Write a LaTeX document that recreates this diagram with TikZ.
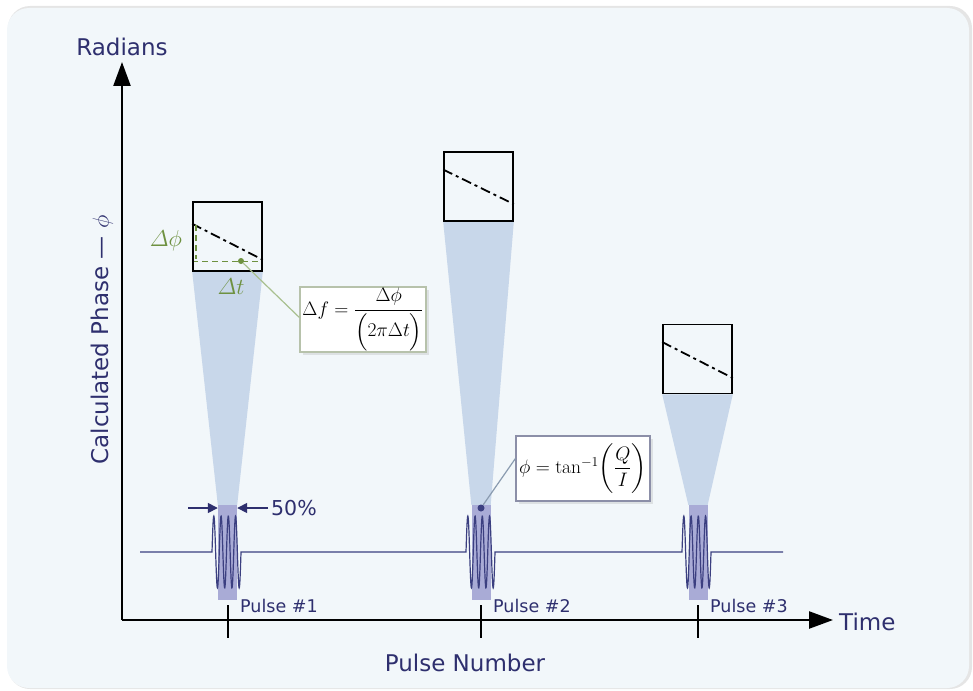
\RequirePackage{fix-cm}
\documentclass[tikz,border=0pt]{standalone}
\usepackage{amsmath}
\usepackage{fontspec}
\newfontfamily\labfont{DejaVu Sans}
\usetikzlibrary{calc,arrows.meta,shadows}
\definecolor{bgc}{HTML}{F2F7FA}
\definecolor{navy}{HTML}{2E2F6E}
\definecolor{wavec}{HTML}{3B3F80}
\definecolor{lav}{HTML}{A9ABD6}
\definecolor{conec}{HTML}{C8D7EA}
\definecolor{grn}{HTML}{6E9140}
\definecolor{grnlead}{HTML}{A9C08F}
\definecolor{box2c}{HTML}{8C8FA8}
\definecolor{lead2}{HTML}{8A9BB0}
\tikzset{
  lab/.style={text=navy,font=\labfont\fontsize{23}{26}\selectfont,inner sep=0pt},
  plab/.style={text=navy,font=\labfont\fontsize{17.5}{20}\selectfont,inner sep=0pt,anchor=west},
  phbox/.style={draw=black,line width=1.6pt,minimum size=69pt,inner sep=0pt},
  dashdot/.style={line width=1.8pt,dash pattern=on 10pt off 4pt on 3pt off 4pt},
  cone/.style={fill=conec},
  barrect/.style={fill=lav,minimum width=19pt,minimum height=95pt,inner sep=0pt},
  wave/.style={draw=wavec,line width=1.2pt},
  axis/.style={line width=2.4pt,-{Triangle[length=24pt,width=17pt]}},
  tick/.style={line width=1.6pt},
  harrow/.style={draw=navy,line width=1.6pt,-{Triangle[length=10pt,width=10pt]}},
  fbox/.style={fill=white,line width=1.2pt,minimum height=65pt,inner sep=0pt,
    font=\fontsize{19.5}{24}\selectfont,
    drop shadow={shadow xshift=3pt,shadow yshift=-3pt,opacity=.18}},
  gdash/.style={draw=grn,line width=1.8pt,dash pattern=on 6pt off 4pt},
}
\begin{document}
\begin{tikzpicture}[x=1pt,y=-1pt]
\useasboundingbox (0,0) rectangle (973,690);
% background panel
\fill[black!10,rounded corners=22pt] (8,6) rectangle (972,689);
\fill[bgc,rounded corners=22pt] (7,8) rectangle (969,688);

% phase boxes and bars
\node[phbox] (b1) at (227.5,236.5) {};
\node[phbox] (b2) at (478.5,186.5) {};
\node[phbox] (b3) at (697.5,359) {};
\node[barrect] (r1) at (227.5,552.5) {};
\node[barrect] (r2) at (481,552.5) {};
\node[barrect] (r3) at (698,552.5) {};
% cones
\fill[cone] (b1.south west) -- (b1.south east) -- (r1.north east) -- (r1.north west) -- cycle;
\fill[cone] (b2.south west) -- (b2.south east) -- (r2.north east) -- (r2.north west) -- cycle;
\fill[cone] (b3.south west) -- (b3.south east) -- (r3.north east) -- (r3.north west) -- cycle;
\node[barrect] at (r1) {};
\node[barrect] at (r2) {};
\node[barrect] at (r3) {};

% waveform
\draw[wave] (140,552) -- (212,552)
  -- plot[domain=0:29,samples=160] ({212+\x},{552-36*sin(\x*360/7.25)})
  -- (466,552)
  -- plot[domain=0:29,samples=160] ({466+\x},{552-36*sin(\x*360/7.25)})
  -- (682,552)
  -- plot[domain=0:29,samples=160] ({682+\x},{552-36*sin(\x*360/7.25)})
  -- (783,552);

% box contents
\draw[dashdot] ($(b1.north west)!0.32!(b1.south west)$) -- ($(b1.north east)!0.83!(b1.south east)$);
\draw[dashdot] ($(b2.north west)!0.26!(b2.south west)$) -- ($(b2.north east)!0.75!(b2.south east)$);
\draw[dashdot] ($(b3.north west)!0.26!(b3.south west)$) -- ($(b3.north east)!0.77!(b3.south east)$);
\draw[gdash] ($(b1.north west)!0.855!(b1.south west)$) -- ($(b1.north east)!0.855!(b1.south east)$);
\draw[gdash] (196,225) -- (196,259);
\node[phbox] at (b1) {};
\node[phbox] at (b2) {};
\node[phbox] at (b3) {};

\node[text=grn,font=\fontsize{23}{26}\selectfont] (dphi) at (166,241) {$\varDelta\phi$};
\node[text=grn,font=\fontsize{23}{26}\selectfont] (dt) at (231,287) {$\varDelta t$};

% formula boxes
\node[fbox,draw=grnlead!80!black!60,minimum width=126pt] (f1) at (363,319.5)
  {$\Delta f=\dfrac{\Delta\phi}{\Bigl(2\pi\Delta t\Bigr)}$};
\node[fbox,draw=box2c,minimum width=134pt] (f2) at (583,468.5)
  {$\phi=\tan^{-1}\!\left(\dfrac{Q}{I}\right)$};
\node[circle,fill=grn,inner sep=0pt,minimum size=6pt] (d1) at (241,261) {};
\node[circle,fill=wavec,inner sep=0pt,minimum size=7pt] (d2) at (481,508) {};
\draw[grnlead,line width=1.2pt] (d1) -- ([yshift=2pt]f1.west);
\draw[lead2,line width=1.2pt] (d2) -- ([yshift=10pt]f2.west);

% 50% arrows
\coordinate (a1s) at (188,508);
\coordinate (a2s) at (268,508);
\draw[harrow] (a1s) -- (a1s -| r1.west);
\draw[harrow] (a2s) -- (a2s -| r1.east);
\node[lab,anchor=west,font=\labfont\fontsize{20.5}{24}\selectfont] (pct) at (271,508) {50\%};

% axes
\coordinate (O) at (122,620);
\coordinate (Ytop) at (122,62);
\coordinate (Xend) at (833,620);
\draw[axis] (O) -- (Ytop);
\draw[axis] (O) -- (Xend);
\draw[tick] (228,605) -- (228,638);
\draw[tick] (481,605) -- (481,638);
\draw[tick] (698,605) -- (698,638);

% labels
\node[lab] (rad) at (122,47) {Radians};
\node[lab,anchor=west] (time) at (839,622) {Time};
\node[lab] (pn) at (465,663) {Pulse Number};
\node[lab,rotate=90] (ylab) at (102,340) {Calculated Phase — $\phi$};
\node[plab] (p1) at (240,606) {Pulse \#1};
\node[plab] (p2) at (493,606) {Pulse \#2};
\node[plab] (p3) at (710,606) {Pulse \#3};
\end{tikzpicture}
\end{document}
